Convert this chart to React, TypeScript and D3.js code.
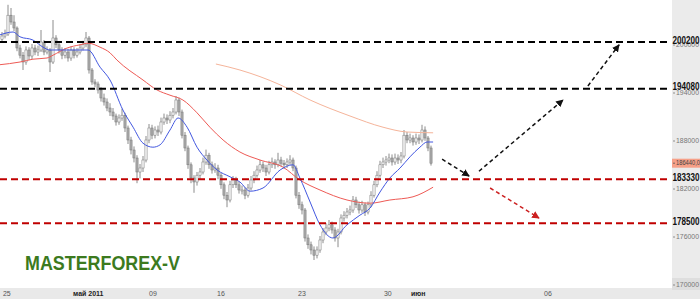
import React from "react";
import * as d3 from "d3";

// ---- data (prices in thousands) ----
const CLOSE = [
  201.0, 201.25, 203.6, 202.75, 202.0, 199.5, 198.6, 197.75, 199.25, 198.5,
  199.5, 199.0, 199.25, 200.25, 199.0, 199.25, 197.75, 200.75, 199.9, 199.25,
  198.6, 199.0, 198.25, 199.25, 198.6, 199.0, 199.5, 199.9, 200.75, 196.75,
  195.25, 195.0, 194.25, 193.25, 192.75, 192.0, 191.5, 191.0, 190.25, 190.75,
  191.1, 189.5, 188.0, 186.75, 185.75, 184.0, 184.5, 185.5, 188.0, 189.5,
  188.6, 189.25, 189.0, 190.25, 190.75, 190.5, 191.1, 191.5, 193.0, 191.5,
  188.6, 187.0, 184.9, 183.25, 182.75, 183.6, 184.0, 185.25, 186.1, 184.9,
  184.25, 184.5, 183.6, 182.4, 181.1, 180.5, 182.4, 183.0, 182.4, 181.75,
  181.75, 181.1, 182.0, 183.0, 183.6, 184.25, 184.9, 184.5, 184.0, 184.9,
  185.25, 184.9, 185.5, 185.1, 184.9, 185.25, 185.5, 184.5, 181.1, 179.9,
  179.25, 175.75, 174.9, 174.25, 173.6, 174.25, 175.5, 176.5, 177.0, 177.4,
  176.75, 175.75, 176.5, 178.25, 178.6, 179.0, 179.25, 180.5, 179.9, 179.25,
  179.9, 179.0, 179.9, 181.1, 182.4, 183.6, 184.9, 185.25, 185.5, 185.75,
  185.25, 185.75, 185.5, 186.0, 188.6, 188.0, 188.25, 187.75, 188.25, 188.0,
  189.25, 188.25, 187.0, 185.1,
];
const OPEN = [
  200.6, 201.0, 201.25, 203.6, 202.75, 202.0, 199.5, 198.6, 197.75, 199.25,
  198.5, 199.5, 199.0, 199.25, 200.25, 199.0, 199.25, 197.75, 200.75, 199.9,
  199.25, 198.6, 199.0, 198.25, 199.25, 198.6, 199.0, 199.5, 199.9, 200.75,
  196.75, 195.25, 195.0, 194.25, 193.25, 192.75, 192.0, 191.5, 191.0, 190.25,
  190.75, 191.1, 189.5, 188.0, 186.75, 185.75, 184.0, 184.5, 185.5, 188.0,
  189.5, 188.6, 189.25, 189.0, 190.25, 190.75, 190.5, 191.1, 191.5, 193.0,
  191.5, 188.6, 187.0, 184.9, 183.25, 182.75, 183.6, 184.0, 185.25, 186.1,
  184.9, 184.25, 184.5, 183.6, 182.4, 181.1, 180.5, 182.4, 183.0, 182.4,
  181.75, 181.75, 181.1, 182.0, 183.0, 183.6, 184.25, 184.9, 184.5, 184.0,
  184.9, 185.25, 184.9, 185.5, 185.1, 184.9, 185.25, 185.5, 184.5, 181.1,
  179.9, 179.25, 175.75, 174.9, 174.25, 173.6, 174.25, 175.5, 176.5, 177.0,
  177.4, 176.75, 175.75, 176.5, 178.25, 178.6, 179.0, 179.25, 180.5, 179.9,
  179.25, 179.9, 179.0, 179.9, 181.1, 182.4, 183.6, 184.9, 185.25, 185.5,
  185.75, 185.25, 185.75, 185.5, 186.0, 188.6, 188.0, 188.25, 187.75, 188.25,
  188.0, 189.25, 188.25, 187.0,
];
const HIGH = [
  201.5, 201.8, 204.9, 204.5, 203.6, 202.2, 199.9, 199.0, 199.7, 199.6,
  200.0, 199.9, 199.8, 201.75, 200.5, 199.7, 199.5, 203.0, 201.1, 200.3,
  199.6, 199.5, 199.4, 199.7, 199.6, 199.5, 200.0, 200.4, 201.5, 201.0,
  197.0, 195.6, 195.3, 194.6, 193.8, 193.2, 192.6, 192.0, 191.3, 191.2,
  191.9, 191.4, 189.8, 188.4, 187.2, 186.1, 185.0, 186.0, 188.5, 190.0,
  189.9, 189.7, 189.8, 190.8, 191.3, 191.2, 191.6, 192.0, 193.5, 193.3,
  191.8, 189.0, 187.3, 185.2, 183.6, 184.0, 184.5, 185.8, 186.8, 186.4,
  185.3, 185.1, 184.9, 183.9, 182.7, 181.5, 182.9, 183.5, 183.4, 182.8,
  182.3, 182.1, 182.5, 183.5, 184.1, 184.8, 185.5, 185.3, 184.9, 185.4,
  185.8, 185.6, 186.4, 185.9, 185.5, 185.7, 186.1, 185.8, 184.8, 181.5,
  180.3, 179.5, 176.2, 175.3, 174.7, 174.7, 176.0, 177.0, 177.6, 178.0,
  177.8, 177.1, 176.9, 178.7, 179.1, 179.5, 179.8, 181.0, 180.9, 180.3,
  180.4, 180.2, 180.3, 181.6, 182.9, 184.1, 185.4, 185.8, 186.0, 186.3,
  186.2, 186.3, 186.2, 186.5, 189.25, 189.0, 188.8, 188.6, 188.8, 188.7,
  189.9, 189.7, 188.5, 187.3,
];
const LOW = [
  200.3, 200.7, 201.0, 202.4, 201.6, 199.1, 198.2, 196.75, 197.4, 198.0,
  198.1, 198.6, 198.5, 199.0, 198.6, 198.7, 196.5, 197.5, 199.5, 198.8,
  198.1, 198.2, 197.8, 197.9, 198.2, 198.3, 198.7, 199.2, 199.6, 196.3,
  194.9, 194.6, 193.8, 192.8, 192.3, 191.6, 191.0, 190.5, 189.8, 189.9,
  190.4, 189.0, 187.5, 186.2, 185.2, 182.6, 183.2, 184.0, 185.2, 187.6,
  188.1, 188.2, 188.5, 188.7, 189.9, 190.0, 190.1, 190.7, 191.2, 191.0,
  188.2, 186.6, 184.4, 182.6, 181.4, 182.3, 183.1, 183.7, 184.9, 184.4,
  183.8, 183.9, 183.1, 181.9, 180.6, 179.6, 180.2, 182.0, 182.0, 181.3,
  181.2, 180.6, 180.8, 181.7, 182.6, 183.3, 183.9, 184.0, 183.5, 183.7,
  184.5, 184.4, 184.6, 184.7, 184.4, 184.5, 184.9, 184.1, 180.7, 179.4,
  178.7, 175.3, 174.4, 173.7, 173.0, 173.2, 173.9, 175.1, 176.1, 176.6,
  176.3, 175.3, 174.6, 176.2, 177.8, 178.2, 178.6, 178.9, 179.5, 178.8,
  178.9, 178.5, 178.7, 179.6, 180.8, 182.1, 183.3, 184.5, 184.8, 185.1,
  184.8, 184.9, 185.0, 185.1, 185.7, 187.6, 187.6, 187.3, 187.4, 187.5,
  187.7, 187.9, 186.6, 184.8,
];

// moving averages: [bar index, price]
const MA_FAST: [number, number][] = [
  [-1, 201.1], [3.7, 201.5], [6, 200.9], [10.3, 200.5], [13.7, 199.6], [16, 199.25],
  [21.7, 199.25], [28.7, 199.25], [32.7, 197.1], [36, 195.5], [40.3, 191.75],
  [43.7, 189.6], [47, 187.6], [50.3, 187.1], [52.7, 187.4], [56, 189.25], [58.7, 190.75],
  [61.7, 189.6], [65, 187.1], [68.3, 185.5], [71.7, 184.25], [76, 183.4], [79.3, 182.75],
  [82.7, 181.6], [87, 182.0], [92.7, 184.25], [97, 184.9], [99.3, 183.25], [102.7, 180.25],
  [106, 177.4], [110.3, 175.75], [115, 177.4], [119.3, 178.6], [122.7, 179.5], [126, 181.5],
  [129.3, 183.25], [132.7, 184.5], [136, 185.9], [139.3, 187.1], [141.7, 187.75], [143.7, 187.75],
];
const MA_MID: [number, number][] = [
  [-1, 197.4], [6, 197.75], [10.3, 198.1], [15, 198.25], [17, 198.6], [21.7, 199.5],
  [26, 199.9], [28.7, 200.1], [32.7, 199.6], [36, 198.9], [38.3, 198.0], [47, 195.5],
  [51.7, 194.25], [56, 193.6], [60.3, 193.0], [65, 191.4], [69.3, 189.6], [73.7, 188.0],
  [79.3, 186.5], [86, 185.5], [93.7, 184.6], [99.3, 183.0], [106, 181.75], [115, 180.5],
  [122.7, 180.1], [129.3, 180.5], [137, 180.9], [143.7, 182.1],
];
const MA_SLOW: [number, number][] = [
  [71.3, 197.5], [79.3, 196.75], [92.7, 194.9], [102.7, 193.0], [116, 191.0],
  [127, 189.6], [135, 189.0], [143.7, 188.9],
];

const LEVEL_VALUES = [200.25, 194.4, 183.1, 177.6];
const LEVEL_LABELS = ["200200", "194080", "183330", "178500"];
const LEVEL_COLORS = ["#000000", "#000000", "#c00000", "#c00000"];

const Y_TICKS = [200, 194, 188, 182, 176, 170];
const X_TICK_POS = [0.3, 23.7, 49, 71.7, 98.7, 127.3, 136.3, 180.7];
const X_TICK_LABELS = ["25", "май 2011", "09", "16", "23", "30", "июн", "06"];
const X_TICK_BOLD = [false, true, false, false, false, false, true, false];

// forecast arrows: [fromIndex, fromPrice, toIndex, toPrice]
const ARROWS: [number, number, number, number][] = [
  [146.7, 185.6, 155.7, 183.5],
  [159, 184.1, 187, 193.0],
  [195.3, 194.75, 205.7, 199.9],
  [162.7, 182.0, 179, 178.25],
];
const ARROW_COLORS = ["#111111", "#111111", "#111111", "#cc2020"];

const LAST_LABEL = "186440,0";

const FONT = "'Liberation Sans', Arial, sans-serif";

export default function App() {
  const W = 700, H = 299;
  const plotRight = 672, plotBottom = 288;
  const x = d3.scaleLinear().domain([0, 143]).range([2, 431]);
  const y = d3.scaleLinear().domain([170, 200]).range([284, 44]);

  const line = d3
    .line<[number, number]>()
    .x((d) => x(d[0]))
    .y((d) => y(d[1]))
    .curve(d3.curveMonotoneX);

  const lastClose = CLOSE[CLOSE.length - 1];

  return (
    <div style={{ position: "fixed", left: 0, top: 0 }}>
      <svg width={W} height={H} style={{ display: "block", fontFamily: FONT }}>
        <defs>
          <clipPath id="plot">
            <rect x={0} y={0} width={plotRight} height={plotBottom} />
          </clipPath>
          {ARROW_COLORS.map((c, i) => (
            <marker
              key={i}
              id={`ah${i}`}
              viewBox="0 0 10 10"
              refX={9}
              refY={5}
              markerWidth={5}
              markerHeight={5}
              orient="auto"
            >
              <path d="M0,0 L10,5 L0,10 z" fill={c} />
            </marker>
          ))}
        </defs>
        <rect x={0} y={0} width={W} height={H} fill="#ffffff" />
        {/* right axis panel */}
        <rect x={plotRight} y={0} width={W - plotRight} height={plotBottom} fill="#ebebeb" />
        {/* bottom axis band */}
        <rect x={0} y={plotBottom} width={W} height={H - plotBottom} fill="#e9e9e9" />

        <g clipPath="url(#plot)">
          {/* candles */}
          {CLOSE.map((c, i) => {
            const o = OPEN[i];
            const up = c >= o;
            const top = y(Math.max(o, c));
            const h = Math.max(1, y(Math.min(o, c)) - top);
            const cx = x(i);
            return (
              <g key={i}>
                <line x1={cx} x2={cx} y1={y(HIGH[i])} y2={y(LOW[i])} stroke="#808080" strokeWidth={0.9} />
                <rect
                  x={cx - 1.1}
                  y={top}
                  width={2.2}
                  height={h}
                  fill={up ? "#f6f6f6" : "#a8a8a8"}
                  stroke="#777777"
                  strokeWidth={0.5}
                />
              </g>
            );
          })}
          {/* moving averages */}
          <path d={line(MA_SLOW) || ""} fill="none" stroke="#f5b49a" strokeWidth={1} />
          <path d={line(MA_MID) || ""} fill="none" stroke="#ee5a55" strokeWidth={1} />
          <path d={line(MA_FAST) || ""} fill="none" stroke="#4257e0" strokeWidth={1} />
        </g>

        {/* levels */}
        {LEVEL_VALUES.map((v, i) => (
          <line
            key={i}
            x1={0}
            x2={plotRight - 2}
            y1={y(v)}
            y2={y(v)}
            stroke={LEVEL_COLORS[i]}
            strokeWidth={2}
            strokeDasharray="7,4"
          />
        ))}

        {/* arrows */}
        {ARROWS.map((a, i) => (
          <line
            key={i}
            x1={x(a[0])}
            y1={y(a[1])}
            x2={x(a[2])}
            y2={y(a[3])}
            stroke={ARROW_COLORS[i]}
            strokeWidth={1.5}
            strokeDasharray="4,3"
            markerEnd={`url(#ah${i})`}
          />
        ))}

        {/* y ticks */}
        {Y_TICKS.map((t, i) => (
          <g key={i}>
            {i === Y_TICKS.length - 1 && (
              <rect x={plotRight} y={y(t) - 6} width={W - plotRight} height={12} fill="#dedede" />
            )}
            <line x1={plotRight + 1} x2={plotRight + 3} y1={y(t) + 1} y2={y(t) + 1} stroke="#777" strokeWidth={0.8} />
            <text x={plotRight + 4} y={y(t) + 1} dy="0.35em" fontSize={6.5} fill="#777" textLength={23} lengthAdjust="spacingAndGlyphs">
              {d3.format("d")(t * 1000)}
            </text>
          </g>
        ))}

        {/* last price box */}
        <rect x={plotRight} y={y(lastClose) - 4.5} width={W - plotRight} height={9} fill="#f6a088" />
        <line x1={plotRight + 1} x2={plotRight + 3} y1={y(lastClose)} y2={y(lastClose)} stroke="#555" strokeWidth={0.8} />
        <text x={plotRight + 4} y={y(lastClose)} dy="0.35em" fontSize={6.5} fill="#444" textLength={24} lengthAdjust="spacingAndGlyphs">
          {LAST_LABEL}
        </text>

        {/* level labels */}
        {LEVEL_VALUES.map((v, i) => (
          <text
            key={i}
            x={plotRight + 0.5}
            y={y(v) - 2}
            dy="0.35em"
            fontSize={10}
            fontWeight="bold"
            fill="#111"
            textLength={27}
            lengthAdjust="spacingAndGlyphs"
          >
            {LEVEL_LABELS[i]}
          </text>
        ))}

        {/* x ticks */}
        {X_TICK_LABELS.map((l, i) => (
          <text
            key={i}
            x={x(X_TICK_POS[i])}
            y={296}
            fontSize={7}
            fontWeight={X_TICK_BOLD[i] ? "bold" : "normal"}
            fill={X_TICK_BOLD[i] ? "#222" : "#555"}
          >
            {l}
          </text>
        ))}

        {/* logo */}
        <text
          x={25}
          y={270}
          fontSize={20}
          fontWeight="bold"
          fill="#3c7a1e"
          textLength={155}
          lengthAdjust="spacingAndGlyphs"
        >
          MASTERFOREX-V
        </text>
      </svg>
    </div>
  );
}
